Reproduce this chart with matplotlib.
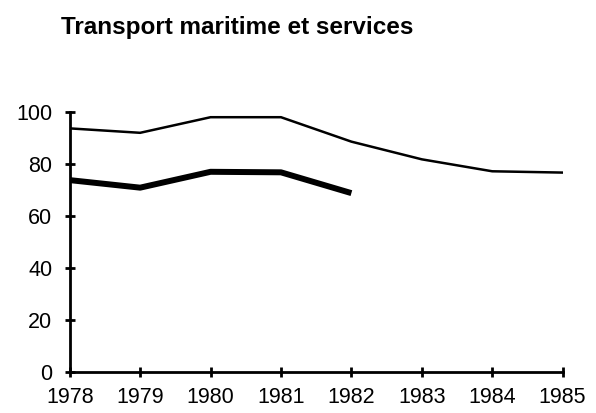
import matplotlib
matplotlib.use("Agg")
import matplotlib.pyplot as plt

years = [1978, 1979, 1980, 1981, 1982, 1983, 1984, 1985]
series_thin = [93.7, 92, 98, 98, 88.6, 81.8, 77.2, 76.7]
years_thick = [1978, 1979, 1980, 1981, 1982]
series_thick = [73.8, 70.9, 77, 76.8, 68.8]
yticks = [0, 20, 40, 60, 80, 100]
title = "Transport maritime et services"

plt.rcParams['font.family'] = ['Liberation Sans', 'DejaVu Sans']

fig = plt.figure(figsize=(5.96, 4.13), dpi=100)
ax = fig.add_axes([0.117, 0.0993, 0.827, 0.6295])

ax.plot(years, series_thin, color='black', lw=1.8, solid_joinstyle='miter')
ax.plot(years_thick, series_thick, color='black', lw=4.3, solid_capstyle='butt')

ax.set_xlim(1978, 1985)
ax.set_ylim(0, 100)
ax.set_xticks(years)
ax.set_yticks(yticks)
for s in ['top', 'right']:
    ax.spines[s].set_visible(False)
for s in ['left', 'bottom']:
    ax.spines[s].set_linewidth(2)
ax.tick_params(direction='inout', length=7, width=2, labelsize=15.5)
ax.tick_params(axis='x', pad=7)
ax.tick_params(axis='y', pad=9)

fig.text(0.103, 1 - 34.3 / 413, title, fontsize=17.5, fontweight='bold',
         va='baseline', ha='left')

fig.savefig('out.png', dpi=100)
